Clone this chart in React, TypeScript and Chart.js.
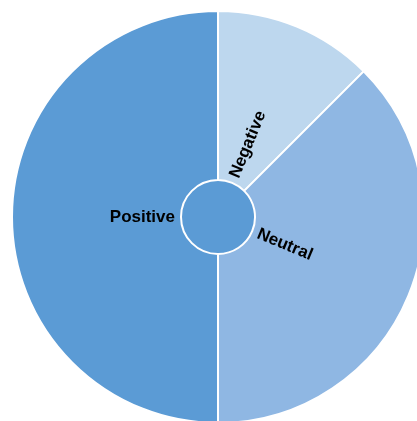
import React, { useEffect, useRef } from "react";
import { Chart, registerables } from "chart.js";

Chart.register(...registerables);

const categories = ["Negative", "Neutral", "Positive"];
const values = [12.5, 37.5, 50];
const sliceColors = ["#bdd7ee", "#8fb7e3", "#5b9bd5"];
const hubValue = [1];
const hubColor = "#5b9bd5";

const labelPlugin = {
  id: "radialLabels",
  afterDatasetsDraw(chart: any) {
    const meta = chart.getDatasetMeta(0);
    const ctx = chart.ctx;
    ctx.save();
    ctx.font = "bold 17px 'Liberation Sans', Arial, sans-serif";
    ctx.fillStyle = "#000000";
    ctx.textBaseline = "middle";
    meta.data.forEach((arc: any, i: number) => {
      const p = arc.getProps(["startAngle", "endAngle", "innerRadius", "x", "y"], true);
      const mid = (p.startAngle + p.endAngle) / 2;
      const r = p.innerRadius + 6;
      const x = p.x + Math.cos(mid) * r;
      const y = p.y + Math.sin(mid) * r;
      ctx.save();
      ctx.translate(x, y);
      if (Math.cos(mid) < -0.001) {
        ctx.rotate(mid - Math.PI);
        ctx.textAlign = "right";
      } else {
        ctx.rotate(mid);
        ctx.textAlign = "left";
      }
      ctx.fillText(categories[i], 0, 0);
      ctx.restore();
    });
    ctx.restore();
  },
};

export default function App() {
  const ref = useRef<HTMLCanvasElement>(null);
  useEffect(() => {
    if (!ref.current) return;
    const chart = new Chart(ref.current, {
      type: "doughnut",
      data: {
        labels: categories,
        datasets: [
          {
            data: values,
            backgroundColor: sliceColors,
            borderColor: "#ffffff",
            borderWidth: 2,
            weight: 169,
          },
          {
            data: hubValue,
            backgroundColor: [hubColor],
            borderWidth: 0,
            weight: 37,
          },
        ],
      },
      options: {
        responsive: false,
        animation: false,
        cutout: 0,
        events: [],
        layout: { padding: 0 },
        plugins: {
          legend: { display: false },
          tooltip: { enabled: false },
        },
      },
      plugins: [labelPlugin],
    });
    return () => chart.destroy();
  }, []);
  return (
    <div
      style={{
        position: "fixed",
        left: 0,
        top: 0,
        width: 417,
        height: 421,
        overflow: "hidden",
        background: "#ffffff",
      }}
    >
      <canvas
        ref={ref}
        width={414}
        height={414}
        style={{ position: "absolute", left: 11, top: 10, width: 414, height: 414 }}
      />
    </div>
  );
}
